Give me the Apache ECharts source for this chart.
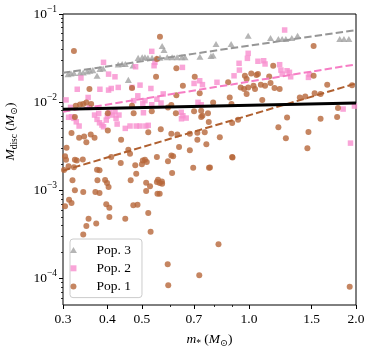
<!DOCTYPE html>
<html>
<head>
<meta charset="utf-8">
<script src="https://cdn.jsdelivr.net/npm/echarts@6/dist/echarts.min.js"></script>
<style>
  html, body { margin: 0; padding: 0; background: #fff; }
  #chart { width: 374px; height: 354px; }
</style>
</head>
<body>
<div id="chart"></div>
<script>
// stellar mass (Msun) and disc mass (Msun) per population
const pop3Mass = [0.310, 0.316, 0.322, 0.335, 0.342, 0.351, 0.357, 0.364, 0.374, 0.381,
  0.389, 0.429, 0.440, 0.449, 0.458, 0.472, 0.488, 0.501, 0.510, 0.520,
  0.534, 0.551, 0.562, 0.570, 0.577, 0.589, 0.608, 0.628, 0.648, 0.661,
  0.728, 0.782, 0.793, 0.808, 0.891, 0.995, 1.15, 1.21, 1.24, 1.27,
  1.32, 1.37, 1.80, 1.85, 1.91]
const pop3Disc = [0.0208, 0.0211, 0.0214, 0.0215, 0.0217, 0.0223, 0.0227, 0.0231, 0.0199, 0.0238,
  0.0241, 0.0267, 0.0271, 0.0271, 0.0179, 0.0260, 0.0318, 0.0323, 0.0323, 0.0318,
  0.0318, 0.0315, 0.0320, 0.0434, 0.0390, 0.0323, 0.0323, 0.0323, 0.0323, 0.0323,
  0.0328, 0.0334, 0.0339, 0.0457, 0.0457, 0.0567, 0.0534, 0.0520, 0.0520, 0.0520,
  0.0534, 0.0567, 0.0520, 0.0520, 0.0520]

const pop2Mass = [0.306, 0.315, 0.311, 0.317, 0.322, 0.327, 0.333, 0.329, 0.337, 0.353,
  0.356, 0.368, 0.374, 0.378, 0.380, 0.386, 0.390, 0.397, 0.400, 0.381,
  0.390, 0.403, 0.403, 0.410, 0.405, 0.414, 0.420, 0.423, 0.429, 0.431,
  0.426, 0.449, 0.420, 0.463, 0.469, 0.480, 0.487, 0.474, 0.494, 0.503,
  0.510, 0.505, 0.513, 0.482, 0.494, 0.533, 0.541, 0.544, 0.530, 0.551,
  0.533, 0.521, 0.574, 0.566, 0.650, 0.645, 0.652, 0.646, 0.666, 0.701,
  0.727, 0.740, 0.719, 0.734, 0.813, 0.908, 0.938, 0.940, 0.995, 0.990,
  1.06, 1.10, 1.11, 1.26, 1.22, 1.23, 1.24, 1.28, 1.30, 1.31,
  1.47, 1.48, 1.84, 1.98, 1.93]
const pop2Disc = [0.0106, 0.00873, 0.00673, 0.00683, 0.00655, 0.00598, 0.00536, 0.0140, 0.0188, 0.0113,
  0.00873, 0.00714, 0.00638, 0.00746, 0.00583, 0.0055, 0.00526, 0.00626, 0.00695, 0.0140,
  0.0283, 0.0208, 0.0137, 0.0143, 0.00758, 0.00714, 0.00777, 0.00655, 0.0147, 0.00714,
  0.00564, 0.00504, 0.0194, 0.00536, 0.0147, 0.0252, 0.0118, 0.0104, 0.0156, 0.00968,
  0.0104, 0.00758, 0.00536, 0.00536, 0.00536, 0.0377, 0.0259, 0.0283, 0.0143, 0.0108,
  0.00934, 0.00546, 0.0124, 0.00977, 0.0248, 0.00766, 0.00701, 0.00648, 0.0066, 0.0163,
  0.0175, 0.0158, 0.00995, 0.00934, 0.0168, 0.0199, 0.0276, 0.0231, 0.0358, 0.0314,
  0.0291, 0.0295, 0.0271, 0.0658, 0.0266, 0.0231, 0.0208, 0.0227, 0.0218, 0.0194,
  0.0191, 0.0206, 0.00835, 0.00903, 0.00343]

const pop1Mass = [0.322, 0.562, 1.52, 0.551, 0.548, 0.469, 0.356, 0.326, 0.335, 0.342,
  0.349, 0.360, 0.469, 0.401, 0.474, 0.533, 0.324, 0.625, 0.704, 0.652,
  0.727, 0.625, 0.874, 0.974, 0.985, 1.015, 1.05, 0.948, 0.969, 0.995,
  1.03, 1.04, 0.985, 0.883, 0.893, 0.793, 0.605, 0.592, 0.623, 0.701,
  0.734, 0.767, 0.740, 1.17, 1.06, 1.14, 1.08, 1.11, 1.15, 1.18,
  1.22, 1.52, 1.66, 1.09, 1.39, 1.44, 1.53, 1.59, 1.95, 1.28,
  1.59, 1.78, 1.77, 1.21, 1.27, 1.47, 1.46, 1.92, 0.777, 0.899,
  0.821, 0.565, 0.605, 0.629, 0.682, 0.716, 0.716, 0.751, 0.771, 0.828,
  0.897, 0.932, 0.636, 0.682, 0.759, 0.605, 0.612, 0.592, 0.697, 0.772,
  0.897, 0.608, 0.555, 0.561, 0.570, 0.561, 0.734, 0.317, 0.333, 0.344,
  0.349, 0.359, 0.401, 0.437, 0.521, 0.307, 0.304, 0.306, 0.324, 0.328,
  0.341, 0.368, 0.410, 0.458, 0.463, 0.503, 0.510, 0.516, 0.500, 0.436,
  0.551, 0.302, 0.322, 0.319, 0.374, 0.380, 0.375, 0.324, 0.342, 0.312,
  0.317, 0.304, 0.370, 0.380, 0.403, 0.397, 0.405, 0.465, 0.482, 0.473,
  0.486, 0.514, 0.527, 0.551, 0.553, 0.521, 0.354, 0.405, 0.449, 0.342,
  0.349, 0.372, 0.529, 0.591, 0.593, 0.725, 0.479, 0.514, 0.569, 0.311,
  0.394, 0.399]
const pop1Disc = [0.0380, 0.0552, 0.0433, 0.0308, 0.0194, 0.0145, 0.0141, 0.0091, 0.0094, 0.0095,
  0.0099, 0.0095, 0.0091, 0.0075, 0.0075, 0.0079, 0.0068, 0.0242, 0.0194, 0.0153,
  0.0126, 0.0120, 0.0168, 0.0199, 0.0183, 0.0212, 0.0203, 0.0147, 0.0141, 0.0147,
  0.0153, 0.0141, 0.0124, 0.0113, 0.0095, 0.0099, 0.0093, 0.0087, 0.0075, 0.0079,
  0.0080, 0.0075, 0.0070, 0.0259, 0.0208, 0.0196, 0.0158, 0.0153, 0.0165, 0.0145,
  0.0141, 0.0199, 0.0158, 0.0106, 0.0113, 0.0116, 0.0126, 0.0124, 0.0156, 0.0067,
  0.0065, 0.0086, 0.0068, 0.0052, 0.0039, 0.0046, 0.0030, 0.0000803, 0.00182, 0.00236,
  0.000245, 0.00492, 0.00437, 0.00431, 0.00437, 0.00449, 0.00374, 0.00457, 0.00594, 0.00401,
  0.00579, 0.00631, 0.00309, 0.00284, 0.00332, 0.00249, 0.00243, 0.00214, 0.00180, 0.00180,
  0.00238, 0.00157, 0.00132, 0.00121, 0.00119, 0.000916, 0.00678, 0.00446, 0.00394, 0.00409,
  0.00352, 0.00431, 0.00478, 0.00374, 0.00457, 0.00304, 0.00243, 0.00222, 0.00222, 0.00218,
  0.00224, 0.00394, 0.00238, 0.00288, 0.00259, 0.00218, 0.00222, 0.00209, 0.00197, 0.00204,
  0.00238, 0.00170, 0.00183, 0.00130, 0.00171, 0.00169, 0.00130, 0.00100, 0.000958, 0.000781,
  0.000717, 0.000658, 0.000958, 0.000934, 0.00109, 0.000693, 0.000634, 0.00130, 0.00154, 0.000675,
  0.000685, 0.000984, 0.00111, 0.00124, 0.000916, 0.000552, 0.000475, 0.000497, 0.000475, 0.000316,
  0.000393, 0.000421, 0.000338, 0.000145, 0.0000840, 0.000109, 0.00193, 0.00122, 0.00126, 0.00188,
  0.00131, 0.00121]

// power-law fits, end points at the axis limits
const fitMass = [0.3, 2.0]
const pop3Fit = [0.0215, 0.0658]
const pop2Fit = [0.0078, 0.0268]
const pop1Fit = [0.00167, 0.0163]
const allFit = [0.0083, 0.0098]

const xMajor = [0.3, 0.4, 0.5, 0.7, 1.0, 1.5, 2.0]
const xMinor = [0.6, 0.8, 0.9]
const yMajor = [1e-4, 1e-3, 1e-2, 1e-1]
const yMinor = []
for (let e = -5; e <= -2; e++) {
  for (let k = 2; k <= 9; k++) {
    const v = k * Math.pow(10, e)
    if (v > 5e-5 && v < 0.1) yMinor.push(v)
  }
}

const serif = '"Liberation Serif", "DejaVu Serif", serif'
const brown = 'rgb(182, 103, 58)'
const pink = 'rgb(248, 142, 206)'
const gray = 'rgb(162, 162, 162)'
const triangle = 'path://M0,10L5.77,0L11.55,10Z'
const square = 'path://M0,0L10,0L10,10L0,10Z'

const zip = (xs, ys) => xs.map((x, i) => [x, ys[i]])

const nameRich = {
  i: { fontFamily: serif, fontStyle: 'italic', fontSize: 13.5, lineHeight: 18, color: '#000' },
  r: { fontFamily: serif, fontSize: 13.5, lineHeight: 18, color: '#000' },
  sub: { fontFamily: serif, fontSize: 9.5, verticalAlign: 'bottom', color: '#000' }
}

const myChart = echarts.init(document.getElementById('chart'))
myChart.setOption({
  animation: false,
  backgroundColor: '#fff',
  grid: {
    left: 63, right: 18, top: 14, bottom: 49,
    show: true, borderColor: '#000', borderWidth: 1,
    outerBoundsMode: 'none'
  },
  legend: {
    orient: 'vertical',
    left: 70,
    top: 239,
    data: ['Pop. 3', 'Pop. 2', 'Pop. 1'],
    itemWidth: 36,
    itemHeight: 6,
    itemGap: 4.3,
    padding: [4, 11, 4, 0],
    symbolKeepAspect: true,
    backgroundColor: 'rgba(255,255,255,0.85)',
    borderColor: '#cccccc',
    borderWidth: 1,
    borderRadius: 3,
    textStyle: { fontFamily: serif, fontSize: 13.5, lineHeight: 14, color: '#000' }
  },
  xAxis: [{
    type: 'log',
    logBase: 10,
    min: 0.3,
    max: 2.0,
    axisLine: { show: false },
    splitLine: { show: false },
    axisTick: { show: true, length: 4, customValues: xMajor, lineStyle: { color: '#000', width: 1 } },
    axisLabel: {
      customValues: xMajor,
      formatter: v => v.toFixed(1),
      fontFamily: serif, fontSize: 13.5, color: '#000', margin: 7
    },
    name: '{i|m}{sub|*} {r|(}{i|M}{sub|⊙}{r|)}',
    nameLocation: 'middle',
    nameGap: 24,
    nameTextStyle: { rich: nameRich, lineHeight: 18 }
  }, {
    type: 'log',
    logBase: 10,
    min: 0.3,
    max: 2.0,
    position: 'bottom',
    axisLine: { show: false },
    splitLine: { show: false },
    axisTick: { show: true, length: 2, customValues: xMinor, lineStyle: { color: '#000', width: 0.8 } },
    axisLabel: { show: false }
  }],
  yAxis: [{
    type: 'log',
    logBase: 10,
    min: 5e-5,
    max: 0.1,
    axisLine: { show: false },
    splitLine: { show: false },
    axisTick: { show: true, length: 4, customValues: yMajor, lineStyle: { color: '#000', width: 1 } },
    axisLabel: {
      customValues: yMajor,
      formatter: v => '{b|10}{s|−' + (-Math.round(Math.log10(v))) + '}',
      margin: 6,
      lineHeight: 20,
      rich: {
        b: { fontFamily: serif, fontSize: 13.5, lineHeight: 20, color: '#000' },
        s: { fontFamily: serif, fontSize: 9.5, verticalAlign: 'top', color: '#000' }
      }
    },
    name: '{i|M}{sub|disc} {r|(}{i|M}{sub|⊙}{r|)}',
    nameLocation: 'middle',
    nameRotate: 90,
    nameGap: 44,
    // the label sits above the axis centre in the original
    nameTextStyle: { rich: nameRich, lineHeight: 18, padding: [0, 0, 0, 56] }
  }, {
    type: 'log',
    logBase: 10,
    min: 5e-5,
    max: 0.1,
    position: 'left',
    axisLine: { show: false },
    splitLine: { show: false },
    axisTick: { show: true, length: 2, customValues: yMinor, lineStyle: { color: '#000', width: 0.8 } },
    axisLabel: { show: false }
  }],
  series: [
    {
      name: 'Pop. 3',
      type: 'scatter',
      symbol: triangle,
      symbolKeepAspect: true,
      symbolSize: 7,
      itemStyle: { color: gray },
      data: zip(pop3Mass, pop3Disc),
      z: 2
    },
    {
      name: 'Pop. 2',
      type: 'scatter',
      symbol: square,
      symbolKeepAspect: true,
      symbolSize: 5.5,
      itemStyle: { color: pink },
      data: zip(pop2Mass, pop2Disc),
      z: 2
    },
    {
      name: 'Pop. 1',
      type: 'scatter',
      symbol: 'circle',
      symbolSize: 6,
      itemStyle: { color: brown },
      data: zip(pop1Mass, pop1Disc),
      z: 2
    },
    {
      type: 'line', symbol: 'none', silent: true, z: 3,
      lineStyle: { color: 'rgb(150,150,150)', width: 2, type: [7.4, 3.2] },
      data: zip(fitMass, pop3Fit)
    },
    {
      type: 'line', symbol: 'none', silent: true, z: 3,
      lineStyle: { color: 'rgb(246,125,196)', width: 2, type: [7.4, 3.2] },
      data: zip(fitMass, pop2Fit)
    },
    {
      type: 'line', symbol: 'none', silent: true, z: 3,
      lineStyle: { color: 'rgb(176, 96, 48)', width: 2, type: [7.4, 3.2] },
      data: zip(fitMass, pop1Fit)
    },
    {
      type: 'line', symbol: 'none', silent: true, z: 4,
      lineStyle: { color: '#000', width: 3 },
      data: zip(fitMass, allFit)
    }
  ]
})
</script>
</body>
</html>
